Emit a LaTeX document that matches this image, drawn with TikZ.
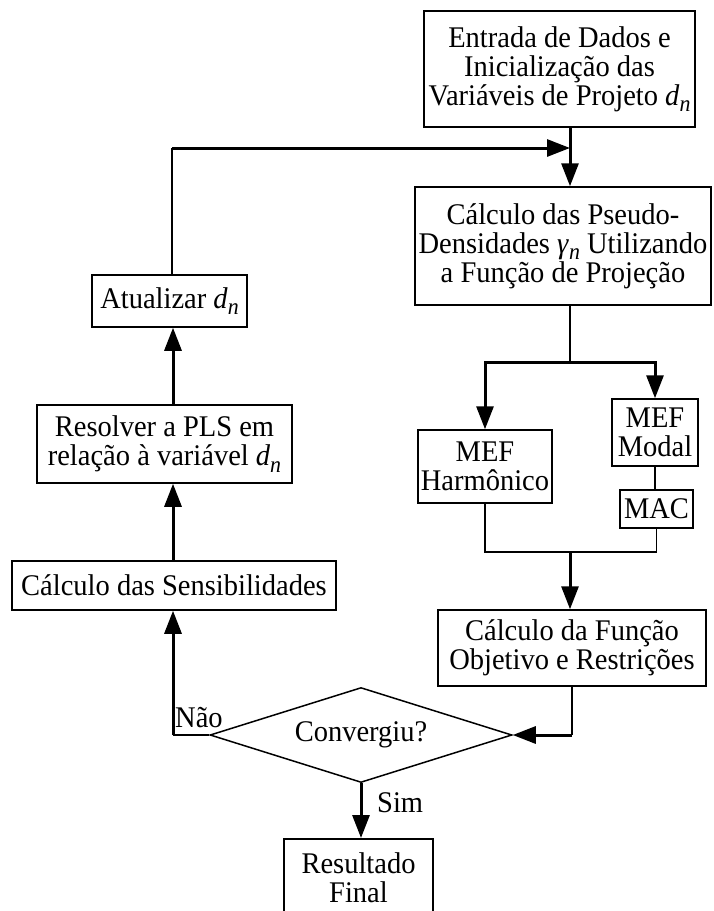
\documentclass[tikz,border=0pt]{standalone}
\usepackage{fontspec}
\setmainfont[FakeStretch=0.95]{Liberation Serif}
\usetikzlibrary{arrows.meta,shapes.geometric}
% italic design variable with a lowered index
\newcommand{\subn}{\raisebox{-6.5pt}{\fontsize{23}{23}\selectfont\itshape n}}
\newcommand{\dvar}{\textit{d}\subn}
\newcommand{\gvar}{\textit{γ}\subn}

\begin{document}
\begin{tikzpicture}[x=1pt,y=-1pt,
  box/.style={draw,line width=1.5pt,rectangle,inner sep=0pt,align=center,
              font=\fontsize{30}{29}\selectfont},
  fine/.style={line width=1.5pt},
  heavy/.style={line width=3pt},
  flow/.style={line width=3pt,-{Triangle[length=23pt,width=17pt]}},
  lbl/.style={inner sep=0pt,font=\fontsize{30}{29}\selectfont}
]
\useasboundingbox (0,0) rectangle (713,911);
\clip (0,0) rectangle (713,911);

% process boxes
\node[box,minimum width=271pt,minimum height=116pt] (entrada) at (559.5,69)
  {Entrada de Dados e\\Inicialização das\\Variáveis de Projeto \dvar};
\node[box,minimum width=296pt,minimum height=118pt] (pseudo) at (563,246)
  {Cálculo das Pseudo-\\Densidades \gvar{} Utilizando\\a Função de Projeção};
\node[box,minimum width=134pt,minimum height=73pt] (harm) at (485,466.5)
  {MEF\\Harmônico};
\node[box,minimum width=86pt,minimum height=67pt] (modal) at (655,432.5)
  {MEF\\Modal};
\node[box,minimum width=73pt,minimum height=38pt] (mac) at (656.5,509) {MAC};
\node[box,minimum width=268pt,minimum height=76pt] (obj) at (572,648)
  {Cálculo da Função\\Objetivo e Restrições};
\node[box,shape=diamond,shape aspect=3.2,minimum width=302pt,minimum height=95pt]
  (conv) at (361,735) {Convergiu?};
\node[box,minimum width=324pt,minimum height=49pt] (sens) at (174,585.5)
  {Cálculo das Sensibilidades};
\node[box,minimum width=255pt,minimum height=78pt] (pls) at (164.5,444)
  {Resolver a PLS em\\relação à variável \dvar};
\node[box,minimum width=155pt,minimum height=52pt] (atual) at (169.5,301)
  {Atualizar \dvar};
\node[box,anchor=north,minimum width=149pt,minimum height=78pt] (final) at (358.5,838)
  {Resultado\\Final};

% branch labels
\node[lbl,anchor=base west] (nao) at (175,727) {Não};
\node[lbl,anchor=base west] (sim) at (377,812) {Sim};

% routing points
\coordinate (fb) at (172,148);
\coordinate (trunk) at (570,148);
\coordinate (split) at (570,362);
\coordinate (merge) at (570,552);
\coordinate (ret) at (obj.south |- conv.east);
\coordinate (no) at (173,735);

% feedback loop into the main line
\draw[fine] (atual.north -| fb) -- (fb);
\draw[flow] (fb) -- (trunk);
\draw[flow] (entrada.south -| trunk) -- (pseudo.north -| trunk);

% split to the two analyses
\draw[fine] (pseudo.south -| split) -- (split);
\draw[flow] (split) -| (harm.north);
\draw[flow] (split) -| (modal.north);
\draw[fine] (modal.south) -- (modal.south |- mac.north);

% merge of the two analyses
\draw[fine] (harm.south) |- (merge) -| (mac.south);
\draw[flow] (merge) -- (obj.north -| merge);

% convergence test
\draw[fine] (obj.south) -- (ret);
\draw[flow] (ret) -- (conv.east);
\draw[fine] (conv.west) -- (no);
\draw[flow] (no) -- (sens.south -| no);
\draw[flow] (sens.north -| no) -- (pls.south -| no);
\draw[flow] (pls.north -| no) -- (atual.south -| no);
\draw[flow] (conv.south) -- (final.north -| conv.south);
\end{tikzpicture}
\end{document}
